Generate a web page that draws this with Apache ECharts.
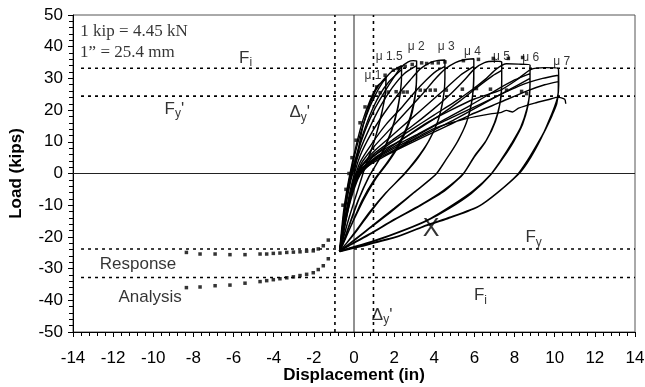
<!DOCTYPE html>
<head>
    <meta charset="utf-8">
    <title>Load - displacement</title>
</head>
<body style="margin:0">
    <script type="text/javascript" src="https://cdn.jsdelivr.net/npm/echarts/dist/echarts.min.js"></script>

    <div id="main" style="width: 645px;height:387px;"></div>

    <script type="text/javascript">
        // hysteresis loops, one path per ductility level (displacement in, load kips)
        var mu1 = [[0,0],[0.2,7],[0.45,15],[0.8,22],[1.15,27],[1.6,30.5],
            [1.55,25],[1.35,18],[1.0,10],[0.55,2],[0.15,-6],[-0.2,-13],[-0.5,-19.5],[-0.72,-24.4],
            [-0.52,-12],[-0.32,-4],[-0.1,3],[0.15,10],[0.45,17],[0.8,23],[1.15,27.5],[1.6,29.8],
            [1.55,24.5],[1.3,17],[0.95,9],[0.5,1],[0.1,-7],[-0.25,-14],[-0.5,-19.8],[-0.7,-24.6]];
        var mu15 = [[-0.7,-24.6],[-0.5,-12.5],[-0.28,-3.5],[-0.05,3.5],[0.25,11],[0.6,18],[1.0,24],[1.4,28.5],[1.85,32],[2.37,34.0],
            [2.36,29],[2.2,21],[1.85,13],[1.3,5],[0.75,-1],[0.25,-8],[-0.15,-15],[-0.45,-20.5],[-0.7,-24.4],
            [-0.48,-12.5],[-0.22,-3],[0.05,4],[0.4,11.5],[0.8,18.5],[1.25,24.5],[1.75,29],[2.37,32.8],
            [2.35,28],[2.15,20],[1.8,12.5],[1.25,4.5],[0.7,-1.5],[0.2,-8.5],[-0.2,-15.5],[-0.5,-21],[-0.72,-24.5]];
        var mu2 = [[-0.72,-24.5],[-0.48,-12.5],[-0.2,-2.5],[0.15,6],[0.55,13.5],[1.0,20],[1.5,25.5],[1.95,30],[2.35,33.5],[2.7,35.2],[2.95,35.6],[3.12,35.5],
            [3.12,30],[3.02,23],[2.75,16],[2.3,9.5],[1.7,3.5],[1.1,-1.5],[0.5,-8],[0,-14.5],[-0.4,-20],[-0.7,-24.3],
            [-0.45,-12],[-0.15,-2],[0.25,6.5],[0.75,14],[1.3,21],[1.9,27],[2.5,31.5],[3.12,34],
            [3.1,28],[2.95,21.5],[2.65,15],[2.2,9],[1.6,3],[1.0,-2],[0.4,-8.5],[-0.05,-15],[-0.42,-20.5],[-0.7,-24.5]];
        var mu3 = [[-0.7,-24.5],[-0.42,-13],[-0.1,-3],[0.3,5.5],[0.85,12.5],[1.5,19],[2.2,25],[2.8,29.5],[3.3,33],[3.8,35],[4.2,35.7],[4.53,35.8],
            [4.53,30],[4.45,24],[4.2,17],[3.75,10.5],[3.2,5],[2.54,0],[1.7,-5.4],[0.9,-11.5],[0.2,-17.5],[-0.3,-21.5],[-0.68,-24.4],
            [-0.42,-13.5],[-0.08,-4],[0.3,3.5],[0.9,9.5],[1.6,15.5],[2.4,21],[3.0,25.5],[3.6,29.5],[4.1,32.3],[4.53,33.8],
            [4.52,28],[4.4,22],[4.15,16],[3.7,10],[3.1,4.5],[2.45,-0.5],[1.6,-6],[0.8,-12],[0.1,-18],[-0.35,-21.8],[-0.72,-24.6]];
        var mu4 = [[-0.72,-24.6],[-0.42,-13.5],[-0.05,-4],[0.35,3],[1.0,8.5],[1.8,14],[2.6,19.5],[3.4,25],[4.0,29.5],[4.55,33],[5.05,35],[5.5,35.9],[5.97,36.2],
            [5.97,30],[5.9,24],[5.65,17],[5.2,10.5],[4.65,5],[4.12,0],[3.1,-5.4],[2.0,-11],[0.9,-16.5],[0,-21],[-0.7,-24.4],
            [-0.42,-14],[-0.05,-4.5],[0.35,2],[1.0,7],[1.9,12],[2.8,17],[3.7,22],[4.6,27],[5.3,31],[5.97,33.8],
            [5.95,28],[5.85,22],[5.6,16],[5.15,10],[4.6,4.5],[4.05,-0.5],[3.0,-6],[1.9,-11.8],[0.8,-17.2],[-0.05,-21.4],[-0.72,-24.5]];
        var mu5 = [[-0.72,-24.5],[-0.43,-14],[-0.08,-5],[0.3,1.5],[0.95,6],[1.9,10.5],[2.9,15],[3.9,20],[4.8,25],[5.5,29.5],[6.0,33],[6.5,35],[7.0,35.4],[7.36,35.2],
            [7.36,29],[7.3,23],[7.05,16.5],[6.6,10.5],[6.0,5.5],[5.45,0],[4.45,-5.4],[3.3,-10],[2.0,-14.5],[0.8,-19],[-0.2,-22.5],[-0.7,-24.4],
            [-0.43,-14.5],[-0.08,-5],[0.3,1],[1.05,5],[2.1,9.5],[3.2,14],[4.3,18.5],[5.3,23],[6.2,27.5],[6.9,30.8],[7.36,32.5],
            [7.35,27],[7.25,21.5],[7.0,16],[6.55,10],[5.95,4.8],[5.4,-0.5],[4.4,-6],[3.2,-10.5],[1.9,-15],[0.7,-19.5],[-0.25,-22.8],[-0.72,-24.5]];
        var mu6 = [[-0.72,-24.5],[-0.45,-15],[-0.1,-6],[0.3,0.5],[0.9,5],[1.8,9.5],[2.9,14],[4.0,18.5],[5.0,22.5],[5.9,26.5],[6.6,30],[7.1,33],[7.6,34.6],[8.2,34.5],[8.77,34.2],
            [8.77,28],[8.68,22],[8.4,15.5],[7.95,10],[7.44,5],[6.86,0],[5.95,-5.4],[4.9,-10],[3.8,-14.2],[2.5,-17.8],[1.0,-21.2],[-0.7,-24.4],
            [-0.45,-15.5],[-0.1,-6.5],[0.3,0],[1.0,4.5],[2.0,8.5],[3.2,12.5],[4.5,17],[5.8,21.5],[7.0,26],[8.0,29.5],[8.77,31.5],
            [8.76,26],[8.62,20.5],[8.3,14.5],[7.85,9.5],[7.35,4.5],[6.8,-0.5],[5.9,-6],[4.8,-10.6],[3.7,-14.6],[2.4,-18.1],[0.9,-21.5],[-0.72,-24.6],
            [-0.45,-15.8],[-0.1,-7],[0.3,-0.5],[1.0,4],[2.2,8],[3.6,12.5],[5.0,17],[6.3,21.5],[7.6,26],[8.77,30],
            [8.75,25],[8.6,19.5],[8.25,13.5],[7.8,8.8],[7.3,4],[6.75,-0.8],[5.85,-6.3],[4.75,-11],[3.6,-15],[2.3,-18.4],[0.8,-21.8],[-0.7,-24.5]];
        var mu7 = [[-0.7,-24.5],[-0.45,-15],[-0.15,-6],[0.3,2],[1.2,6.5],[2.3,10.4],[3.5,15.5],[4.8,19.9],[6.0,23.5],[7.3,26.3],[8.1,29.5],[8.8,32.8],[9.5,33.4],[10.18,33.1],
            [10.2,28],[10.14,24],[9.93,20],[9.6,15],[9.27,10.4],[8.8,5],[8.3,0.5],[7.27,-5.4],[6.28,-10.1],[4.78,-13.8],[3.6,-16.3],[2.3,-19.6],[0.63,-22.3],[-0.7,-24.4],
            [-0.45,-15.5],[-0.15,-6.5],[0.3,1],[1.3,5.5],[2.6,10],[4.0,15],[5.5,19.5],[7.0,24],[8.3,27.8],[9.4,30],[10.18,31],
            [10.18,26],[10.1,22],[9.88,18.5],[9.55,14],[9.2,9.8],[8.7,4.5],[8.2,0],[7.2,-5.8],[6.2,-10.4],[4.7,-14.1],[3.5,-16.6],[2.2,-19.8],[0.6,-22.5],[-0.72,-24.5],
            [-0.45,-16],[-0.15,-7],[0.3,0.5],[1.4,5],[2.8,9.5],[4.3,14],[5.8,18.5],[7.3,22.5],[8.6,26],[9.5,28],[10.18,29],
            [10.17,25],[10.05,21.5],[9.85,18],[9.5,13.5],[9.15,9.5],[8.65,4.2],[8.15,-0.3],[7.15,-6],[6.15,-10.6],[4.65,-14.3],[3.45,-16.8],[2.15,-20],[0.55,-22.7],[-0.7,-24.6],
            [-0.45,-16.5],[-0.1,-6],[0.4,1],[1.45,5.2],[2.7,9.8],[3.95,14.1],[5.6,17.3],[6.8,18.8],[7.3,19.2],[7.6,19.9],[7.9,19.4],[8.2,20.6],[9.0,22.2],[9.8,23.5],[10.15,24.1],[10.5,23.4],[10.55,22]];
        var levels = [mu1, mu15, mu2, mu3, mu4, mu5, mu6, mu7];

        // dotted response / analysis curves
        var respNegX = [-8.35,-7.67,-6.92,-6.18,-5.43,-4.68,-4.35,-4.02,-3.69,-3.35,-3.02,-2.69,-2.36,-2.03,-1.78,-1.53,-1.28];
        var respNegY = [-24.9,-25.4,-25.4,-25.6,-25.6,-25.4,-25.4,-25.2,-25.1,-24.9,-24.8,-24.7,-24.5,-24.4,-23.8,-22.8,-21];
        var anaNegY  = [-36,-35.8,-35.4,-35.2,-34.6,-34.1,-33.8,-33.5,-33.2,-32.9,-32.6,-32.2,-31.8,-31.3,-30.3,-29.1,-26.9];
        var respPosX = [-0.55,-0.4,-0.25,-0.1,0.1,0.3,0.55,0.95,1.3,1.7,2.1,2.45,2.65,3.3,3.55,3.8,4.05,4.6,5.4,6.1,6.8,7.6,8.35,8.6];
        var respPosY = [-10,-5,0,5,10.5,16,21,24.3,25.5,25.7,25.8,25.7,25.7,26.3,26.2,26.3,26.3,26.3,26.6,26.8,26.6,26.3,25.9,25.2];
        var anaPosX = [1.13,1.55,1.96,2.2,2.55,2.9,3.37,3.62,3.9,4.2,4.53,5.45,6.2,6.94,7.69,8.4];
        var anaPosY = [27.3,31,32.6,33.1,33.8,34.4,34.9,34.7,34.9,34.9,35.2,35.6,36,36.3,36.3,36.6];

        // reference levels
        var fiPos = 33.2, fyPos = 24.4, fyNeg = -23.8, fiNeg = -32.8;
        var dyNeg = -0.95, dyPos = 0.97;

        // text notes [x, y, text]
        var notes = [
            [-10.96, 44.9, '{t|1 kip = 4.45 kN}'],
            [-11.29, 38.1, '{t|1\u201d = 25.4 mm}'],
            [-5.4, 36.4, '{b|F}{s|i}'],
            [-8.95, 20.4, '{b|F}{s|y}{b|\'}'],
            [-2.7, 19.2, '{b|\u0394}{s|y}{b|\'}'],
            [8.95, -20.2, '{b|F}{s|y}'],
            [6.3, -38.5, '{b|F}{s|i}'],
            [1.4, -44.6, '{b|\u0394}{s|y}{b|\'}'],
            [3.84, -17.7, '{x|X}'],
            [-10.76, -28.8, '{n|Response}'],
            [-10.16, -38.9, '{n|Analysis}'],
            [0.95, 30.7, '{m|\u03bc 1}'],
            [1.75, 36.7, '{m|\u03bc 1.5}'],
            [3.1, 39.9, '{m|\u03bc 2}'],
            [4.6, 39.9, '{m|\u03bc 3}'],
            [5.9, 38.3, '{m|\u03bc 4}'],
            [7.35, 36.7, '{m|\u03bc 5}'],
            [8.8, 36.4, '{m|\u03bc 6}'],
            [10.35, 35.4, '{m|\u03bc 7}']
        ];

        var font = 'Liberation Sans, Arial, sans-serif';
        var series = [];
        function dashed(data) {
            series.push({type: 'line', data: data, showSymbol: false, silent: true,
                lineStyle: {color: '#000', width: 1.6, type: [3, 4]}});
        }
        dashed([[-13.6, fiPos], [14, fiPos]]);
        dashed([[-13.6, fyPos], [14, fyPos]]);
        dashed([[-13.6, fyNeg], [14, fyNeg]]);
        dashed([[-13.6, fiNeg], [14, fiNeg]]);
        dashed([[dyNeg, -50], [dyNeg, 50]]);
        dashed([[dyPos, -50], [dyPos, 50]]);
        // zero lines
        series.push({type: 'line', data: [[-14, 0], [14, 0]], showSymbol: false, silent: true,
            lineStyle: {color: '#222', width: 1}});
        series.push({type: 'line', data: [[0, -50], [0, 50]], showSymbol: false, silent: true,
            lineStyle: {color: '#222', width: 1}});

        for (var i = 0; i < levels.length; i++) {
            series.push({type: 'line', data: levels[i], showSymbol: false, smooth: 0.2,
                lineStyle: {color: '#000', width: 1.4}});
        }

        function zip(xs, ys) {
            var out = [];
            for (var k = 0; k < xs.length; k++) out.push([xs[k], ys[k]]);
            return out;
        }
        var dots = [].concat(zip(respNegX, respNegY), zip(respNegX, anaNegY), zip(respPosX, respPosY), zip(anaPosX, anaPosY));
        series.push({type: 'scatter', data: dots, symbol: 'rect', symbolSize: 3.5,
            itemStyle: {color: '#000'}});

        series.push({
            type: 'scatter', symbolSize: 0, silent: true,
            data: notes.map(function (n) {
                return {value: [n[0], n[1]], label: {formatter: n[2]}};
            }),
            label: {
                show: true, position: 'inside', color: '#000',
                rich: {
                    t: {fontFamily: 'Liberation Serif, serif', fontSize: 17, color: '#000'},
                    b: {fontFamily: font, fontSize: 17, lineHeight: 22, color: '#000'},
                    s: {fontFamily: font, fontSize: 12, lineHeight: 12, verticalAlign: 'bottom', color: '#000'},
                    n: {fontFamily: font, fontSize: 17, color: '#000'},
                    x: {fontFamily: font, fontSize: 25, color: '#000'},
                    m: {fontFamily: font, fontSize: 12, color: '#000'}
                }
            }
        });

        var myChart = echarts.init(document.getElementById('main'));
        myChart.setOption({
            animation: false,
            backgroundColor: '#fff',
            grid: {left: 73, right: 10, top: 15, bottom: 55, show: true, borderColor: '#555', borderWidth: 1,
                containLabel: false, outerBoundsMode: 'none'},
            xAxis: {
                type: 'value', min: -14, max: 14, interval: 2,
                name: 'Displacement (in)', nameLocation: 'middle', nameGap: 35, nameMoveOverlap: false,
                nameTextStyle: {fontFamily: font, fontSize: 17, fontWeight: 'bold', color: '#000'},
                axisLine: {onZero: false, lineStyle: {color: '#000'}},
                axisTick: {length: 5, lineStyle: {color: '#000'}},
                minorTick: {show: true, splitNumber: 5, length: 4, lineStyle: {color: '#000'}},
                splitLine: {show: false},
                axisLabel: {fontFamily: font, fontSize: 17, color: '#000', margin: 18}
            },
            yAxis: {
                type: 'value', min: -50, max: 50, interval: 10,
                name: 'Load (kips)', nameLocation: 'middle', nameGap: 48, nameMoveOverlap: false,
                nameTextStyle: {fontFamily: font, fontSize: 17, fontWeight: 'bold', color: '#000'},
                axisLine: {onZero: false, lineStyle: {color: '#000'}},
                axisTick: {length: 5, lineStyle: {color: '#000'}},
                minorTick: {show: true, splitNumber: 5, length: 4, lineStyle: {color: '#000'}},
                splitLine: {show: false},
                axisLabel: {fontFamily: font, fontSize: 17, color: '#000', margin: 10}
            },
            series: series
        });
    </script>
</body>
